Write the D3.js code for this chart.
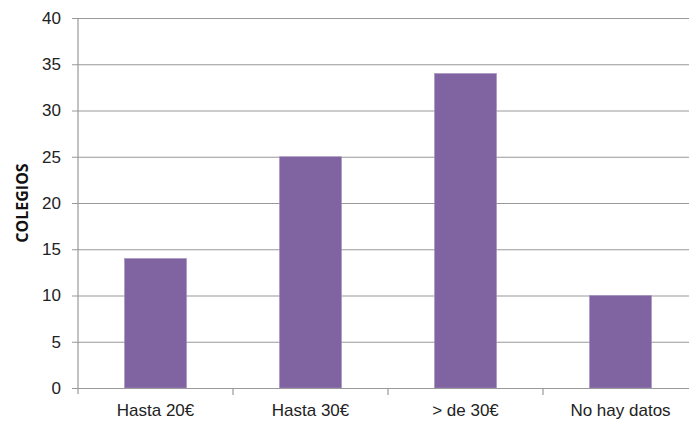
<!DOCTYPE html>
<html>
<head>
<meta charset="utf-8">
<script src="https://cdn.jsdelivr.net/npm/d3@7"></script>
<style>
  body { margin: 0; background: #fff; }
  svg { display: block; font-family: "Open Sans", "Noto Sans", sans-serif; }
  .grid line { stroke: #999; stroke-width: 1.2; }
  .tick text { fill: #222; font-size: 17px; }
</style>
</head>
<body>
<svg id="chart" width="689" height="425"></svg>
<script>
"use strict";

var categories = ['Hasta 20€', 'Hasta 30€', '> de 30€', 'No hay datos'];
var colegios = [14, 25, 34, 10];
var yTicks = [0, 5, 10, 15, 20, 25, 30, 35, 40];

function make_chart() {
  var svg = d3.select('#chart');
  var margin = { top: 18, left: 78, bottom: 37 };
  var width = 620;
  var height = 425 - margin.top - margin.bottom;

  var plot = svg.append('g')
    .attr('transform', 'translate(' + margin.left + ',' + margin.top + ')');

  var _x = d3.scaleBand().domain(categories).range([0, width]).paddingInner(0.6).paddingOuter(0.3);
  var _y = d3.scaleLinear().domain([0, 40]).range([height, 0]);

  // gridlines + left axis ticks
  var yaxis = d3.axisLeft(_y).tickValues(yTicks).tickSize(-width).tickSizeOuter(0).tickPadding(17);
  var gy = plot.append('g').attr('class', 'grid').call(yaxis);
  gy.select('.domain').remove();
  gy.selectAll('.tick line').attr('x1', -6).attr('x2', width);

  plot.selectAll('.bar')
    .data(colegios)
    .enter().append('rect')
    .attr('class', 'bar')
    .attr('x', function (d, i) { return _x(categories[i]); })
    .attr('y', function (d) { return _y(d); })
    .attr('width', _x.bandwidth())
    .attr('height', function (d) { return height - _y(d); })
    .attr('fill', '#8064a2')
    .attr('stroke', '#a58fc0')
    .attr('stroke-width', 0.6);

  // vertical axis line
  plot.append('line')
    .attr('x1', 0).attr('x2', 0).attr('y1', 0).attr('y2', height + 6)
    .attr('stroke', '#999').attr('stroke-width', 1.2);

  // category axis
  var step = _x.step();
  var xaxis = d3.axisBottom(_x).tickSize(0).tickPadding(16);
  var gx = plot.append('g').attr('transform', 'translate(0,' + height + ')').call(xaxis);
  gx.select('.domain').attr('stroke', '#999').attr('stroke-width', 1.2);
  gx.selectAll('.tick text').style('font-size', '17px').attr('fill', '#222');
  gx.selectAll('.sep')
    .data(d3.range(1, categories.length))
    .enter().append('line')
    .attr('x1', function (d) { return d * step; })
    .attr('x2', function (d) { return d * step; })
    .attr('y1', 0).attr('y2', 7)
    .attr('stroke', '#999').attr('stroke-width', 1.2);

  svg.append('text')
    .attr('transform', 'translate(28,' + (margin.top + height / 2) + ') rotate(-90)')
    .attr('text-anchor', 'middle')
    .style('font-size', '16px')
    .style('font-weight', 'bold')
    .attr('fill', '#111')
    .text('COLEGIOS');
}

make_chart();
</script>
</body>
</html>
